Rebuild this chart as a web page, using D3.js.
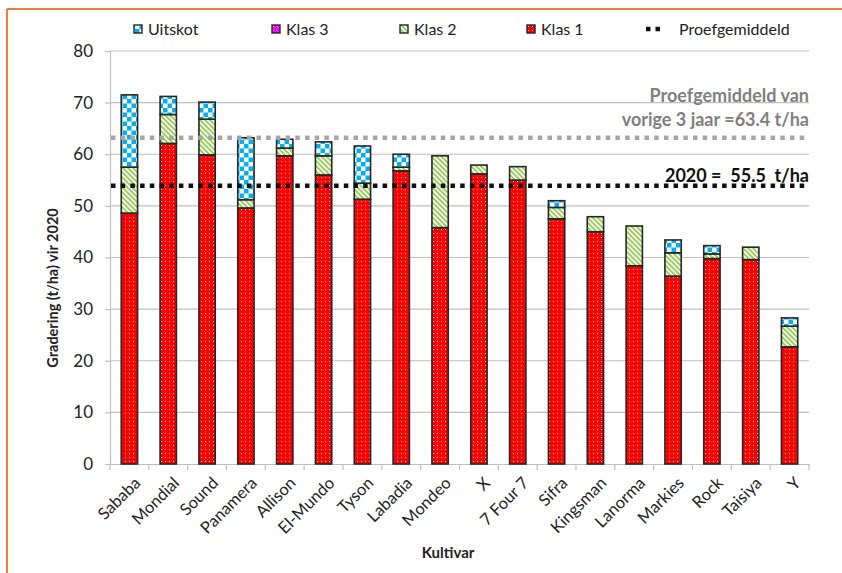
<!DOCTYPE html>
<html><head><meta charset="utf-8">
<script src="https://cdn.jsdelivr.net/npm/d3@7"></script>
<style>
html,body{margin:0;padding:0;background:#fff;}
svg{display:block;font-family:Lato,"Open Sans",sans-serif;}
text{white-space:pre;}
</style></head>
<body>
<svg id="c" width="842" height="573"></svg>
<script>
const cultivars = ["Sababa","Mondial","Sound","Panamera","Allison","El-Mundo","Tyson","Labadia","Mondeo","X","7 Four 7","Sifra","Kingsman","Lanorma","Markies","Rock","Taisiya","Y"];
const klas1   = [48.6,62.1,59.9,49.6,59.7,56.0,51.3,56.8,45.8,56.2,55.0,47.5,45.0,38.4,36.4,39.8,39.6,22.7];
const klas2   = [8.9,5.6,6.9,1.6,1.5,3.7,3.1,0.7,13.9,1.7,2.6,2.2,2.9,7.7,4.5,0.9,2.4,4.0];
const klas3   = [0,0,0,0,0,0,0,0,0,0,0,0,0,0,0,0,0,0];
const uitskot = [14.0,3.5,3.3,12.0,1.7,2.7,7.2,2.5,0,0,0,1.3,0,0,2.5,1.6,0,1.6];
const seriesNames = ["Klas 1","Klas 2","Klas 3","Uitskot"];
const legendNames = ["Uitskot","Klas 3","Klas 2","Klas 1","Proefgemiddeld"];
const yTicks = [0,10,20,30,40,50,60,70,80];
const meanLines = [63.2, 53.9];
const meanLabels = [["Proefgemiddeld van","vorige 3 jaar =63.4 t/ha"],["2020 =  55.5  t/ha"]];

const svg = d3.select("#c");
const defs = svg.append("defs");
function dotPattern(id, color){
  const p = defs.append("pattern").attr("id",id).attr("patternUnits","userSpaceOnUse").attr("width",4).attr("height",4);
  p.append("rect").attr("width",4).attr("height",4).attr("fill",color);
  p.append("rect").attr("x",1).attr("y",1).attr("width",1).attr("height",1).attr("fill","#fff").attr("opacity",0.85);
}
dotPattern("p1","#ff0000");
dotPattern("p3","#ff00ff");
{
  const p = defs.append("pattern").attr("id","p2").attr("patternUnits","userSpaceOnUse").attr("width",5).attr("height",5);
  p.append("rect").attr("width",5).attr("height",5).attr("fill","#fff");
  p.append("path").attr("d","M-1,-1L6,6M-1,4L1,6M4,-1L6,1").attr("stroke","#92d050").attr("stroke-width",1.8);
}
{
  const p = defs.append("pattern").attr("id","pu").attr("patternUnits","userSpaceOnUse").attr("width",9).attr("height",9).attr("x",1).attr("y",0);
  p.append("rect").attr("width",9).attr("height",9).attr("fill","#fff");
  p.append("rect").attr("width",4.5).attr("height",4.5).attr("fill","#00b0f0");
  p.append("rect").attr("x",4.5).attr("y",4.5).attr("width",4.5).attr("height",4.5).attr("fill","#00b0f0");
}
const fills = {"Klas 1":"url(#p1)","Klas 2":"url(#p2)","Klas 3":"url(#p3)","Uitskot":"url(#pu)"};

svg.append("line").attr("x1",7).attr("x2",842).attr("y1",9).attr("y2",9).attr("stroke","#f47b3a").attr("stroke-width",2);
svg.append("line").attr("x1",7).attr("x2",7).attr("y1",9).attr("y2",573).attr("stroke","#f47b3a").attr("stroke-width",2);

const L=110, R=809, T=51, B=464;
const x = d3.scaleBand().domain(cultivars).range([L,R]).paddingInner(0.58).paddingOuter(0.29);
const y = d3.scaleLinear().domain([0,80]).range([B,T]);

svg.append("g").selectAll("line").data(yTicks.filter(d=>d>0)).join("line")
  .attr("x1",L).attr("x2",R).attr("y1",d=>y(d)).attr("y2",d=>y(d))
  .attr("stroke","#bfbfbf").attr("stroke-width",1.2);

const ya = svg.append("g").attr("transform",`translate(${L},0)`).call(d3.axisLeft(y).tickValues(yTicks).tickSize(5).tickPadding(12));
ya.select(".domain").attr("stroke","#bfbfbf").attr("stroke-width",1.2);
ya.selectAll(".tick line").attr("stroke","#bfbfbf").attr("stroke-width",1.2);
ya.selectAll("text").attr("font-size",17).attr("fill","#222").attr("font-family","Lato");

const xa = svg.append("g").attr("transform",`translate(0,${B})`).call(d3.axisBottom(x).tickSize(0).tickFormat(""));
xa.select(".domain").attr("stroke","#bfbfbf").attr("stroke-width",1.2);
svg.append("g").selectAll("line").data(d3.range(cultivars.length+1)).join("line")
  .attr("x1",i=>L+i*(R-L)/cultivars.length).attr("x2",i=>L+i*(R-L)/cultivars.length)
  .attr("y1",B).attr("y2",B+6).attr("stroke","#bfbfbf").attr("stroke-width",1.2);

const rows = cultivars.map((c,i)=>({c, "Klas 1":klas1[i], "Klas 2":klas2[i], "Klas 3":klas3[i], "Uitskot":uitskot[i]}));
const stack = d3.stack().keys(seriesNames)(rows);
const gb = svg.append("g");
stack.forEach(s=>{
  gb.append("g").selectAll("rect").data(s.filter(d=>d[1]-d[0]>0)).join("rect")
    .attr("x",d=>x(d.data.c)).attr("width",x.bandwidth())
    .attr("y",d=>y(d[1])).attr("height",d=>y(d[0])-y(d[1]))
    .attr("fill",fills[s.key]).attr("stroke","#262626").attr("stroke-width",1.6);
});

const lineColors = ["#a6a6a6","#111"];
meanLines.forEach((v,i)=>{
  svg.append("line").attr("x1",L+1).attr("x2",R).attr("y1",y(v)).attr("y2",y(v))
    .attr("stroke",lineColors[i]).attr("stroke-width",4.5).attr("stroke-dasharray","4.5,5.2");
});
const lab = svg.append("g").attr("font-weight","bold").attr("font-size",18).attr("text-anchor","end");
lab.append("text").attr("x",R).attr("y",102).attr("fill","#7f7f7f").text(meanLabels[0][0]);
lab.append("text").attr("x",R).attr("y",126).attr("fill","#7f7f7f").text(meanLabels[0][1]);
lab.append("text").attr("x",R).attr("y",182).attr("fill","#111").text(meanLabels[1][0]);

svg.append("g").selectAll("text").data(cultivars).join("text")
  .attr("transform",d=>`translate(${x(d)+x.bandwidth()/2+8},${B+16}) rotate(-45)`)
  .attr("text-anchor","end").attr("dy","0.35em").attr("font-size",16.5).attr("fill","#222").text(d=>d);

svg.append("text").attr("transform","translate(58,288) rotate(-90)").attr("text-anchor","middle")
  .attr("font-weight","bold").attr("font-size",14.5).attr("fill","#222").text("Gradering (t/ha) vir 2020");
svg.append("text").attr("x",448).attr("y",558).attr("text-anchor","middle")
  .attr("font-weight","bold").attr("font-size",15).attr("fill","#222").text("Kultivar");

const legX = [134,272,400,527,646];
const legKey = {"Uitskot":"url(#pu)","Klas 3":"url(#p3)","Klas 2":"url(#p2)","Klas 1":"url(#p1)"};
const lg = svg.append("g");
legendNames.forEach((n,i)=>{
  const g = lg.append("g").attr("transform",`translate(${legX[i]},29)`);
  if(n==="Proefgemiddeld"){
    g.append("line").attr("x1",0).attr("x2",14).attr("y1",0).attr("y2",0).attr("stroke","#111").attr("stroke-width",4.5).attr("stroke-dasharray","4.5,5");
    g.append("text").attr("x",33).attr("dy","0.35em").attr("font-size",16).attr("fill","#222").text(n);
  } else {
    g.append("rect").attr("x",0).attr("y",-4).attr("width",8).attr("height",8).attr("fill",legKey[n]).attr("stroke","#262626").attr("stroke-width",1.4);
    g.append("text").attr("x",14).attr("dy","0.35em").attr("font-size",16).attr("fill","#222").text(n);
  }
});
</script>
</body></html>
